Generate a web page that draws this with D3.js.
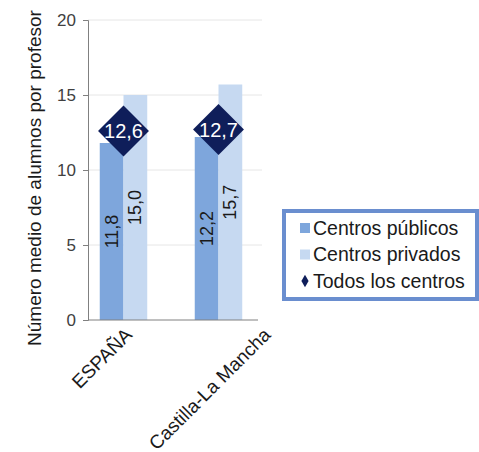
<!DOCTYPE html>
<html>
<head>
<meta charset="utf-8">
<script src="https://cdn.jsdelivr.net/npm/d3@7"></script>
<style>
  body { margin: 0; background: #fff; }
  text { font-family: "Liberation Sans", Arial, sans-serif; }
</style>
</head>
<body>
<svg id="chart" width="479" height="452"></svg>
<script>
// datos
var categorias = ["ESPAÑA", "Castilla-La Mancha"];
var series = ["Centros públicos", "Centros privados"];
var publicos = [11.8, 12.2];
var privados = [15.0, 15.7];
var todos = [12.6, 12.7];
var ticksY = [0, 5, 10, 15, 20];
var colores = ["#7ea6dc", "#c6d9f1"];
var colorTodos = "#0f1e5a";

var svg = d3.select("#chart");

var y = d3.scaleLinear().domain([0, 20]).range([320, 20]);
var x = d3.scaleBand().domain(categorias).range([76, 266])
  .paddingInner(0.5).paddingOuter(0.25);
var x1 = d3.scaleBand().domain(series).range([0, x.bandwidth()]);

var coma = function(v) { return d3.format(".1f")(v).replace(".", ","); };

// gridlines
svg.append("g").selectAll("line").data(ticksY.slice(1)).enter().append("line")
  .attr("x1", 88).attr("x2", 262)
  .attr("y1", d => y(d)).attr("y2", d => y(d))
  .attr("stroke", "#e6e6e6").attr("stroke-width", 1);

// eje y
var ejeY = svg.append("g").attr("transform", "translate(88,0)")
  .call(d3.axisLeft(y).tickValues(ticksY).tickSize(5).tickPadding(7));
ejeY.select(".domain").attr("stroke", "#808080");
ejeY.selectAll(".tick line").attr("stroke", "#808080");
ejeY.selectAll(".tick text").attr("font-size", 17).attr("fill", "#404040")
  .style("font-family", "Liberation Sans, Arial, sans-serif");

// barras
var filas = categorias.map(function(c, i) {
  return { cat: c, vals: [publicos[i], privados[i]], total: todos[i] };
});

var grupos = svg.append("g").selectAll("g").data(filas).enter().append("g")
  .attr("transform", d => "translate(" + x(d.cat) + ",0)");

grupos.selectAll("rect").data(d => d.vals.map((v, j) => ({ s: series[j], v: v, j: j })))
  .enter().append("rect")
  .attr("x", d => x1(d.s))
  .attr("width", x1.bandwidth())
  .attr("y", d => y(d.v))
  .attr("height", d => y(0) - y(d.v))
  .attr("fill", d => colores[d.j]);

grupos.selectAll("text.val").data(d => d.vals.map((v, j) => ({ s: series[j], v: v })))
  .enter().append("text").attr("class", "val")
  .attr("transform", d => "translate(" + (x1(d.s) + x1.bandwidth() / 2 + 6) + "," + ((y(d.v) + y(0)) / 2) + ") rotate(-90)")
  .attr("text-anchor", "middle")
  .attr("font-size", 18).attr("fill", "#1a1a1a")
  .text(d => coma(d.v));

// eje x
svg.append("line").attr("x1", 88).attr("x2", 258).attr("y1", 320).attr("y2", 320)
  .attr("stroke", "#808080");

// etiquetas inclinadas: las largas se desplazan a la derecha como en Excel
svg.append("g").selectAll("text").data(categorias).enter().append("text")
  .attr("text-anchor", "end")
  .attr("font-size", 19).attr("fill", "#1a1a1a")
  .text(d => d)
  .attr("transform", function(d) {
    var len = this.getComputedTextLength();
    return "translate(" + (x(d) + x.bandwidth() / 2 + len * 0.5 - 28) + ",336) rotate(-45)";
  });

// rombos todos los centros
var r = svg.append("g").selectAll("g").data(filas).enter().append("g")
  .attr("transform", d => "translate(" + (x(d.cat) + x.bandwidth() / 2) + "," + y(d.total) + ")");
r.append("rect").attr("x", -18).attr("y", -18).attr("width", 36).attr("height", 36)
  .attr("transform", "rotate(45)").attr("fill", colorTodos);
r.append("text").attr("text-anchor", "middle").attr("dy", "0.36em")
  .attr("font-size", 20).attr("fill", "#fff").text(d => coma(d.total));

// titulo eje y
svg.append("text")
  .attr("transform", "translate(41,178) rotate(-90)")
  .attr("text-anchor", "middle")
  .attr("font-size", 19).attr("fill", "#1a1a1a")
  .text("Número medio de alumnos por profesor");

// leyenda
var ley = svg.append("g").attr("transform", "translate(284,211)");
ley.append("rect").attr("width", 193).attr("height", 88)
  .attr("fill", "#fff").attr("stroke", "#6a8ecf").attr("stroke-width", 4);
var itemsLey = series.concat(["Todos los centros"]);
var li = ley.selectAll("g").data(itemsLey).enter().append("g")
  .attr("transform", (d, i) => "translate(16," + (17 + i * 26.5) + ")");
li.each(function(d, i) {
  var g = d3.select(this);
  if (i < 2) {
    g.append("rect").attr("x", 0).attr("y", -5).attr("width", 10).attr("height", 10)
      .attr("fill", colores[i]);
  } else {
    g.append("path").attr("d", d3.symbol().type(d3.symbolDiamond).size(45)())
      .attr("transform", "translate(5,0)").attr("fill", colorTodos);
  }
  g.append("text").attr("x", 13).attr("dy", "0.35em")
    .attr("font-size", 19.5).attr("fill", "#1a1a1a").text(d);
});
</script>
</body>
</html>
